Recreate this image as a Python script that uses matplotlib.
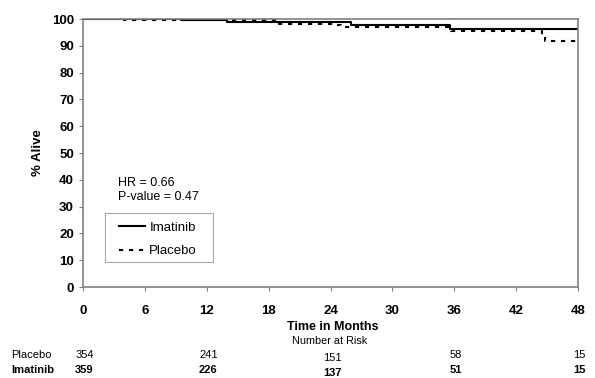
import numpy as np
import matplotlib.pyplot as plt
from matplotlib.patches import Rectangle

plt.rcParams['font.family'] = ['Liberation Sans', 'DejaVu Sans']

# Kaplan-Meier step curves (months, % alive)
imatinib_t = [0, 9.5, 14, 26, 35.6, 48]
imatinib_s = [100, 99.5, 98.9, 97.9, 96.3, 96.3]
placebo_t = [0, 4, 19, 24.2, 25, 35.7, 44.5, 44.8, 48]
placebo_s = [100, 99.6, 98.2, 97.6, 96.9, 95.6, 93.8, 91.9, 91.9]

risk_months = [0, 12, 24, 36, 48]
risk_placebo = [354, 241, 151, 58, 15]
risk_imatinib = [359, 226, 137, 51, 15]

W, H = 595, 378
fig = plt.figure(figsize=(W / 100, H / 100), dpi=100)
ax = fig.add_axes([83 / W, 1 - 287 / H, 495 / W, 268 / H])

ax.plot(imatinib_t, imatinib_s, drawstyle='steps-post', color='black', lw=1.5, label='Imatinib')
ax.plot(placebo_t, placebo_s, drawstyle='steps-post', color='black', lw=1.5,
        linestyle=(0, (2.0, 2.8)), label='Placebo')

ax.set_xlim(0, 48)
ax.set_ylim(0, 100)
ax.set_xticks(range(0, 49, 6))
ax.set_yticks(range(0, 101, 10))
for s in ax.spines.values():
    s.set_color('#808080')
    s.set_linewidth(1.2)
ax.tick_params(axis='both', length=3, color='#808080', labelsize=9.5)
ax.tick_params(axis='x', pad=10)
for lbl in ax.get_xticklabels() + ax.get_yticklabels():
    lbl.set_fontweight('bold')

ax.set_ylabel('% Alive', fontsize=9.5, fontweight='bold', labelpad=6)
fig.text(333 / W, 1 - 327.5 / H, 'Time in Months', ha='center', va='center', fontsize=9, fontweight='bold')
fig.text(330 / W, 1 - 341.5 / H, 'Number at Risk', ha='center', va='center', fontsize=7.8)

ax.text((118 - 83) / 495, (287 - 203) / 268, 'HR = 0.66\nP-value = 0.47', transform=ax.transAxes,
        fontsize=9, va='bottom', linespacing=1.25)

# legend box drawn separately so its padding can be wider than the text
leg = ax.legend(loc='center left', bbox_to_anchor=((119 - 83) / 495, (287 - 239.5) / 268),
                fontsize=9.5, handlelength=2.0, handletextpad=0.3, borderpad=0,
                borderaxespad=0, labelspacing=0.85, frameon=False)
ax.add_patch(Rectangle(((105 - 83) / 495, (287 - 262) / 268), 108 / 495, 49 / 268,
                       transform=ax.transAxes, facecolor='white', edgecolor='#a8a8a8',
                       lw=0.8, zorder=4))
leg.set_zorder(5)

# Number at risk table under the axis
fig.text(11 / W, 1 - 355 / H, 'Placebo', ha='left', va='center', fontsize=8)
fig.text(11 / W, 1 - 370 / H, 'Imatinib', ha='left', va='center', fontsize=8, fontweight='bold')
for m, p, i in zip(risk_months, risk_placebo, risk_imatinib):
    xf = ax.transData.transform((m, 0))[0] / fig.bbox.width + 1.5 / W
    dy = 3 if m == 24 else 0
    fig.text(xf, 1 - (355 + dy) / H, str(p), ha='center', va='center', fontsize=8)
    fig.text(xf, 1 - (370 + dy) / H, str(i), ha='center', va='center', fontsize=8, fontweight='bold')

fig.savefig('out.png', dpi=100, facecolor='white')
